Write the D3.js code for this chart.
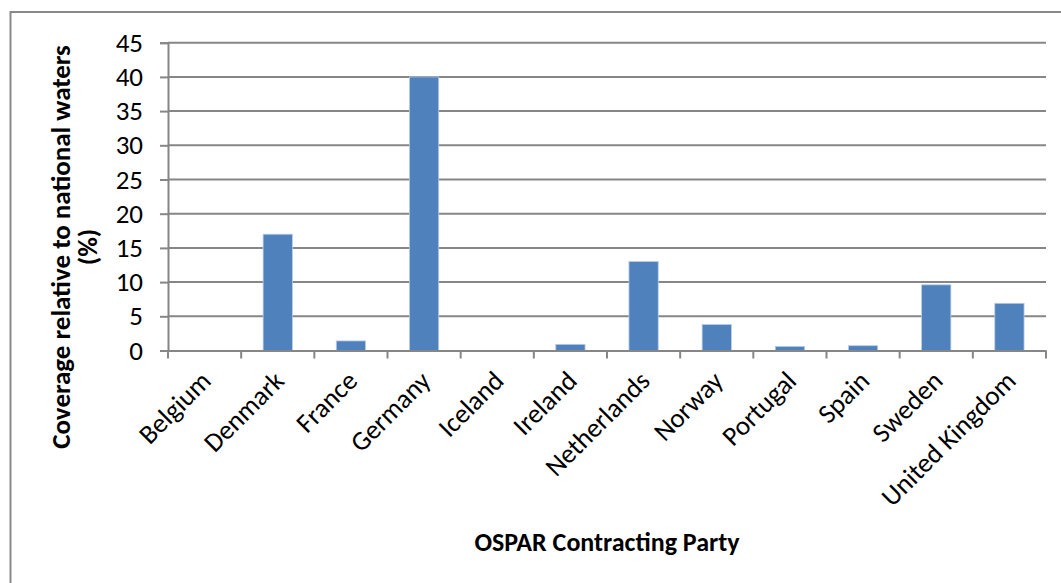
<!DOCTYPE html>
<html>
<head>
<meta charset="utf-8">
<script src="https://cdn.jsdelivr.net/npm/d3@7"></script>
<style>
  html, body { margin: 0; padding: 0; background: #fff; }
  svg text { font-family: Carlito, "Open Sans", "Noto Sans", sans-serif; fill: #000; }
</style>
</head>
<body>
<svg id="chart" width="1061" height="583"></svg>
<script>
const categories = ["Belgium", "Denmark", "France", "Germany", "Iceland", "Ireland", "Netherlands", "Norway", "Portugal", "Spain", "Sweden", "United Kingdom"];
const coverage = [0, 17, 1.4, 40, 0, 0.9, 13, 3.8, 0.6, 0.7, 9.6, 6.9];
const yTicks = [0, 5, 10, 15, 20, 25, 30, 35, 40, 45];
const yTitle = ["Coverage relative to national waters", "(%)"];
const xTitle = "OSPAR Contracting Party";

const svg = d3.select("#chart");
const pLeft = 168, pRight = 1046, pTop = 42.7, pBottom = 350.5;
const FONT = 'Carlito, "Open Sans", "Noto Sans", sans-serif';

// outer frame
svg.append("rect").attr("x", 10.5).attr("y", 12).attr("width", 1070).attr("height", 600)
  .attr("fill", "none").attr("stroke", "#898989").attr("stroke-width", 2);

const x = d3.scaleBand().domain(categories).range([pLeft, pRight]).padding(0);
const y = d3.scaleLinear().domain([0, 45]).range([pBottom, pTop]);

// gridlines
svg.append("g").selectAll("line").data(yTicks.filter(d => d > 0)).join("line")
  .attr("x1", pLeft).attr("x2", pRight).attr("y1", d => y(d)).attr("y2", d => y(d))
  .attr("stroke", "#868686").attr("stroke-width", 2);

// y axis
const yAxis = svg.append("g").attr("transform", `translate(${pLeft},0)`)
  .call(d3.axisLeft(y).tickValues(yTicks).tickSize(8).tickPadding(17));
yAxis.select(".domain").attr("stroke", "#868686").attr("stroke-width", 2);
yAxis.selectAll(".tick line").attr("stroke", "#868686").attr("stroke-width", 2);
yAxis.selectAll(".tick text").attr("font-size", 27).attr("font-family", FONT).attr("fill", "#000");

// bars
const bw = x.bandwidth() * 0.4;
svg.append("g").selectAll("rect").data(categories).join("rect")
  .attr("x", d => x(d) + (x.bandwidth() - bw) / 2)
  .attr("width", bw)
  .attr("y", (d, i) => y(coverage[i]))
  .attr("height", (d, i) => y(0) - y(coverage[i]))
  .attr("fill", "#4F81BD")
  .attr("stroke", "#B9CDE5").attr("stroke-width", 0.8);

// x axis
const xAxis = svg.append("g").attr("transform", `translate(0,${pBottom})`)
  .call(d3.axisBottom(x).tickSize(0).tickFormat(""));
xAxis.select(".domain").attr("stroke", "#868686").attr("stroke-width", 2);
const bounds = categories.map(c => x(c)).concat([pRight]);
svg.append("g").selectAll("line").data(bounds).join("line")
  .attr("x1", d => d).attr("x2", d => d).attr("y1", pBottom).attr("y2", pBottom + 8)
  .attr("stroke", "#868686").attr("stroke-width", 2);

// rotated category labels
svg.append("g").selectAll("text").data(categories).join("text")
  .attr("transform", d => `translate(${x(d) + x.bandwidth() / 2 + 8},${pBottom + 32}) rotate(-45)`)
  .attr("text-anchor", "end")
  .attr("font-size", 27)
  .text(d => d);

// y title
const yt = svg.append("text")
  .attr("transform", `translate(70,247) rotate(-90)`)
  .attr("text-anchor", "middle").attr("font-weight", "bold").attr("font-size", 27);
yt.selectAll("tspan").data(yTitle).join("tspan")
  .attr("x", 0).attr("dy", (d, i) => i === 0 ? 0 : 27).text(d => d);

// x title
svg.append("text").attr("x", 607).attr("y", 551)
  .attr("text-anchor", "middle").attr("font-weight", "bold").attr("font-size", 26)
  .text(xTitle);
</script>
</body>
</html>
